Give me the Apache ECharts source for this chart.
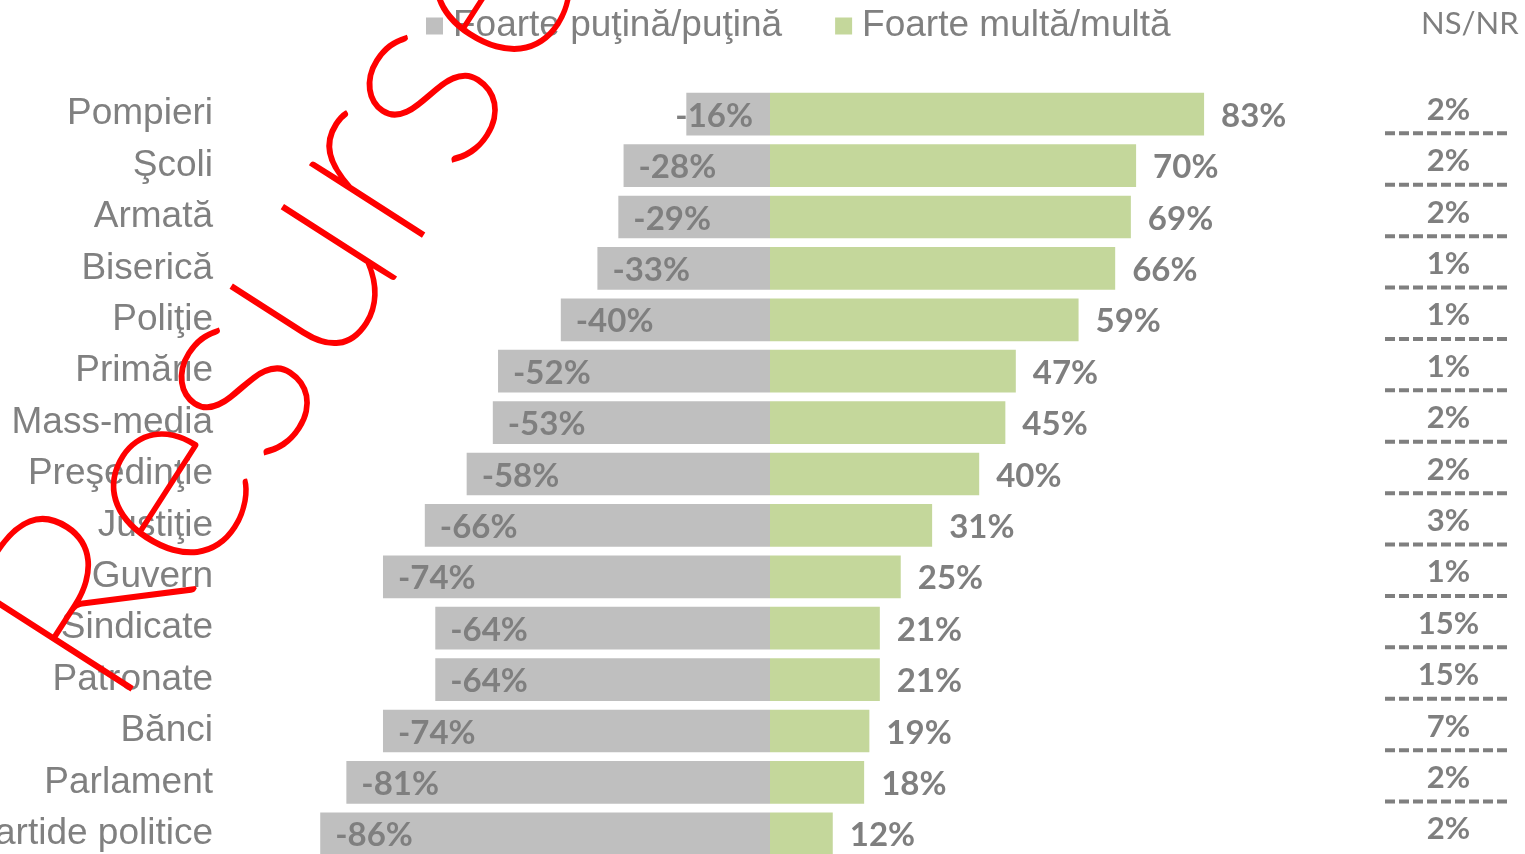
<!DOCTYPE html>
<html>
<head>
<meta charset="utf-8">
<script src="https://cdn.jsdelivr.net/npm/echarts@6/dist/echarts.min.js"></script>
<style>
html,body{margin:0;padding:0;background:#fff;}
#chart{width:1525px;height:854px;}
</style>
</head>
<body>
<div id="chart"></div>
<script>
const categories = ['Pompieri','Şcoli','Armată','Biserică','Poliţie','Primărie','Mass-media','Preşedinţie','Justiţie','Guvern','Sindicate','Patronate','Bănci','Parlament','Partide politice'];
const lowTrust = [-16,-28,-29,-33,-40,-52,-53,-58,-66,-74,-64,-64,-74,-81,-86];
const highTrust = [83,70,69,66,59,47,45,40,31,25,21,21,19,18,12];
const nsnr = [2,2,2,1,1,1,2,2,3,1,15,15,7,2,2];
const legendNames = ['Foarte puţină/puţină','Foarte multă/multă'];
const nsnrTitle = 'NS/NR';
const watermark = 'Resurse';

const GRAY = '#BFBFBF', GREEN = '#C4D79B', TXT = '#7F7F7F';
const labelFont = {fontFamily:'Lato', fontWeight:'bold', fontSize:33, color:TXT, offset:[0,2]};

const chart = echarts.init(document.getElementById('chart'), null, {renderer:'canvas'});
chart.setOption({
  animation:false,
  backgroundColor:'#fff',
  title:{text:nsnrTitle, left:1416, top:3, textStyle:{fontFamily:'Lato', fontWeight:'normal', fontSize:31, color:TXT}},
  legend:{
    data:legendNames, left:421, top:1, padding:5, itemWidth:17, itemHeight:17, itemGap:53, icon:'rect',
    textStyle:{fontFamily:'Liberation Sans', fontSize:37, lineHeight:40, color:'#808080', padding:[0,0,0,5]}
  },
  grid:[
    {left:247, width:1046, top:88.5, height:771, containLabel:false, outerBoundsMode:'none'},
    {left:1385, width:123, top:84, height:771, containLabel:false, outerBoundsMode:'none'}
  ],
  xAxis:[
    {type:'value', gridIndex:0, min:-100, max:100, show:false},
    {type:'value', gridIndex:1, min:0, max:1, show:false}
  ],
  yAxis:[
    {type:'category', gridIndex:0, data:categories, inverse:true,
     axisLine:{show:false}, axisTick:{show:false}, splitLine:{show:false},
     axisLabel:{fontFamily:'Liberation Sans', fontSize:37, color:'#808080', margin:34, padding:[5,0,0,0]}},
    {type:'category', gridIndex:1, data:categories, inverse:true, show:false}
  ],
  series:[
    {name:legendNames[0], type:'bar', stack:'t', barCategoryGap:'17%',
     itemStyle:{color:GRAY},
     data:lowTrust.map(v => ({value:v, label:(Math.abs(v) < 20 ? {position:'insideRight', distance:17} : {position:'insideLeft', distance:15})})),
     label:Object.assign({show:true, formatter:'{c}%'}, labelFont)},
    {name:legendNames[1], type:'bar', stack:'t', barCategoryGap:'17%',
     itemStyle:{color:GREEN},
     data:highTrust,
     label:Object.assign({show:true, position:'right', distance:17, formatter:'{c}%'}, labelFont)},
    {type:'custom', xAxisIndex:1, yAxisIndex:1, clip:false,
     data:nsnr.map((v,i) => [0.5, i, v]),
     renderItem:function(params, api){
       const idx = api.value(1);
       const pt = api.coord([0.5, idx]);
       const band = api.size([0,1])[1];
       const x0 = api.coord([0, idx])[0], x1 = api.coord([1, idx])[0];
       const children = [{
         type:'text', x:pt[0]+2, y:pt[1],
         style:{text:api.value(2)+'%', textAlign:'center', textVerticalAlign:'middle', align:'center', verticalAlign:'middle',
                fill:TXT, font:'bold 31px Lato'}
       }];
       if (idx < categories.length - 1) {
         const ly = pt[1] + band*0.46;
         children.push({type:'line', shape:{x1:x0, y1:ly, x2:x1, y2:ly},
           style:{stroke:TXT, lineWidth:4, lineDash:[10,4]}});
       }
       return {type:'group', children:children};
     }}
  ],
  graphic:[{
    type:'text', x:280, y:296, rotation:1.0, z:100,
    style:{text:watermark, font:'100 268px Lato', fill:'#FF0000', stroke:'#FF0000', lineWidth:3,
           textAlign:'center', textVerticalAlign:'middle', align:'center', verticalAlign:'middle'}
  }]
});
</script>
</body>
</html>
